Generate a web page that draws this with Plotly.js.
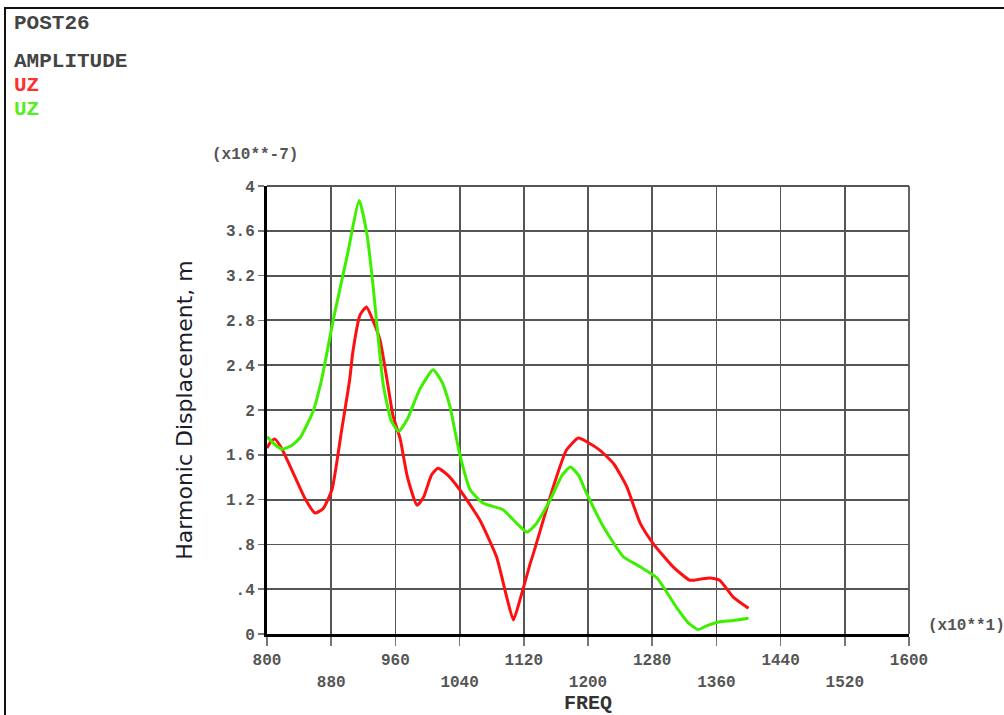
<!DOCTYPE html>
<html>
<head>
<meta charset="utf-8">
<script src="https://cdn.plot.ly/plotly-3.0.1.min.js"></script>
<style>
  html, body { margin: 0; padding: 0; background: #fff; }
  #wrap { position: relative; width: 1004px; height: 715px; }
  #chart { width: 1004px; height: 715px; }
  #frame { position: absolute; left: 4px; top: 7px; right: 0; bottom: 0;
           border-top: 2px solid #111; border-left: 2px solid #111; pointer-events: none; }
</style>
</head>
<body>
<div id="wrap"><div id="chart"></div><div id="frame"></div></div>
<script>
// ---- data ----
const greenFreq = [800, 810, 819, 830, 841, 857, 868, 883, 900, 915, 925, 932, 945, 955, 964, 975, 990, 1007, 1018, 1028, 1040, 1053, 1069, 1094, 1111, 1124, 1135, 1153, 1168, 1178, 1188, 1198, 1219, 1244, 1265, 1286, 1310, 1325, 1337, 1350, 1364, 1381, 1400];
const greenAmp  = [1.76, 1.69, 1.65, 1.68, 1.75, 1.98, 2.27, 2.82, 3.38, 3.87, 3.55, 3.12, 2.22, 1.90, 1.81, 1.92, 2.18, 2.36, 2.25, 2.03, 1.61, 1.29, 1.17, 1.11, 0.99, 0.91, 0.98, 1.20, 1.42, 1.49, 1.42, 1.26, 0.96, 0.69, 0.60, 0.50, 0.24, 0.10, 0.04, 0.08, 0.11, 0.12, 0.14];

const redFreq = [800, 805, 810, 818, 835, 848, 860, 870, 881, 893, 903, 907, 916, 924, 932, 941, 950, 957, 966, 975, 987, 995, 1005, 1013, 1025, 1040, 1065, 1086, 1098, 1107, 1115, 1128, 1132, 1157, 1173, 1188, 1200, 1215, 1232, 1248, 1265, 1281, 1306, 1327, 1340, 1352, 1364, 1381, 1400];
const redAmp  = [1.66, 1.72, 1.74, 1.66, 1.40, 1.20, 1.08, 1.12, 1.29, 1.82, 2.27, 2.52, 2.85, 2.92, 2.80, 2.62, 2.25, 1.95, 1.74, 1.40, 1.15, 1.22, 1.42, 1.48, 1.42, 1.29, 1.02, 0.69, 0.35, 0.125, 0.30, 0.63, 0.72, 1.32, 1.64, 1.75, 1.71, 1.64, 1.52, 1.32, 0.99, 0.81, 0.60, 0.48, 0.49, 0.50, 0.48, 0.33, 0.23];

const xTickRow1 = [800, 960, 1120, 1280, 1440, 1600];
const xTickRow2 = [880, 1040, 1200, 1360, 1520];
const xTickAll  = [800, 880, 960, 1040, 1120, 1200, 1280, 1360, 1440, 1520, 1600];
const yTickVals = [0, 0.4, 0.8, 1.2, 1.6, 2, 2.4, 2.8, 3.2, 3.6, 4];
const yTickText = ['0', '.4', '.8', '1.2', '1.6', '2', '2.4', '2.8', '3.2', '3.6', '4'];
const seriesNames = ['UZ', 'UZ'];

// ---- layout helpers ----
const W = 1004, H = 715;
const M = { l: 267, r: 95, t: 186, b: 81 };
const pw = W - M.l - M.r, ph = H - M.t - M.b;
const px2x = px => (px - M.l) / pw;
const px2y = py => 1 - (py - M.t) / ph;

const RED = '#ff1010', GREEN = '#3ef000';
const mono = 'Liberation Mono, Courier New, monospace';
const labelFont = { family: mono, size: 16, color: '#555', weight: 'bold' };

const traces = [
  { x: redFreq, y: redAmp, name: seriesNames[0], type: 'scatter', mode: 'lines',
    xaxis: 'x', yaxis: 'y',
    line: { color: RED, width: 3, shape: 'spline', smoothing: 0.5 } },
  { x: greenFreq, y: greenAmp, name: seriesNames[1], type: 'scatter', mode: 'lines',
    xaxis: 'x2', yaxis: 'y',
    line: { color: GREEN, width: 3, shape: 'spline', smoothing: 0.5 } }
];

const headFont = { family: mono, size: 21, color: '#444', weight: 'bold' };
const annotations = [
  { text: 'POST26', x: px2x(12), y: px2y(23), font: headFont },
  { text: 'AMPLITUDE', x: px2x(12), y: px2y(62), font: headFont },
  { text: seriesNames[0], x: px2x(12), y: px2y(86), font: Object.assign({}, headFont, { color: '#ff3030' }) },
  { text: seriesNames[1], x: px2x(12), y: px2y(109), font: Object.assign({}, headFont, { color: '#55ee22' }) },
  { text: '(x10**-7)', x: px2x(210), y: px2y(155), font: labelFont },
  { text: '(x10**1)', x: px2x(926), y: px2y(626), font: labelFont }
].map(a => Object.assign({ xref: 'paper', yref: 'paper', xanchor: 'left', yanchor: 'middle', showarrow: false }, a));

const gridColor = '#555555';
const layout = {
  width: W, height: H,
  margin: M,
  paper_bgcolor: '#fff', plot_bgcolor: '#fff',
  showlegend: false,
  xaxis: {
    range: [800, 1600], tickmode: 'array', tickvals: xTickAll,
    ticktext: xTickAll.map(v => xTickRow1.includes(v) ? String(v) : ''),
    ticks: 'outside', ticklen: 9, tickwidth: 1.5, tickcolor: '#777',
    showgrid: true, gridcolor: gridColor, gridwidth: 1.8,
    showline: true, linecolor: '#000', linewidth: 3,
    zeroline: false, tickfont: labelFont,
    title: { text: 'FREQ', font: { family: mono, size: 20, color: '#333', weight: 'bold' }, standoff: 34 }
  },
  xaxis2: {
    overlaying: 'x', anchor: 'y', side: 'bottom', range: [800, 1600],
    tickmode: 'array', tickvals: xTickRow2, ticktext: xTickRow2.map(String),
    ticks: '', ticklabelstandoff: 36, showgrid: false, showline: false, zeroline: false,
    tickfont: labelFont
  },
  yaxis: {
    range: [0, 4], tickmode: 'array', tickvals: yTickVals, ticktext: yTickText,
    ticks: 'outside', ticklen: 6, tickwidth: 1.5, tickcolor: '#777',
    showgrid: true, gridcolor: gridColor, gridwidth: 1.8,
    showline: true, linecolor: '#000', linewidth: 3,
    zeroline: false, tickfont: labelFont,
    title: { text: 'Harmonic Displacement, m', font: { family: 'DejaVu Sans, Verdana, sans-serif', size: 22, color: '#1c1c2c' }, standoff: 28 }
  },
  shapes: [
    { type: 'line', xref: 'paper', yref: 'paper', x0: 0, x1: 1, y0: 1, y1: 1, line: { color: gridColor, width: 1.8 } },
    { type: 'line', xref: 'paper', yref: 'paper', x0: 1, x1: 1, y0: 0, y1: 1, line: { color: gridColor, width: 1.8 } }
  ],
  annotations: annotations
};

Plotly.newPlot('chart', traces, layout, { displayModeBar: false, staticPlot: true });
</script>
</body>
</html>
